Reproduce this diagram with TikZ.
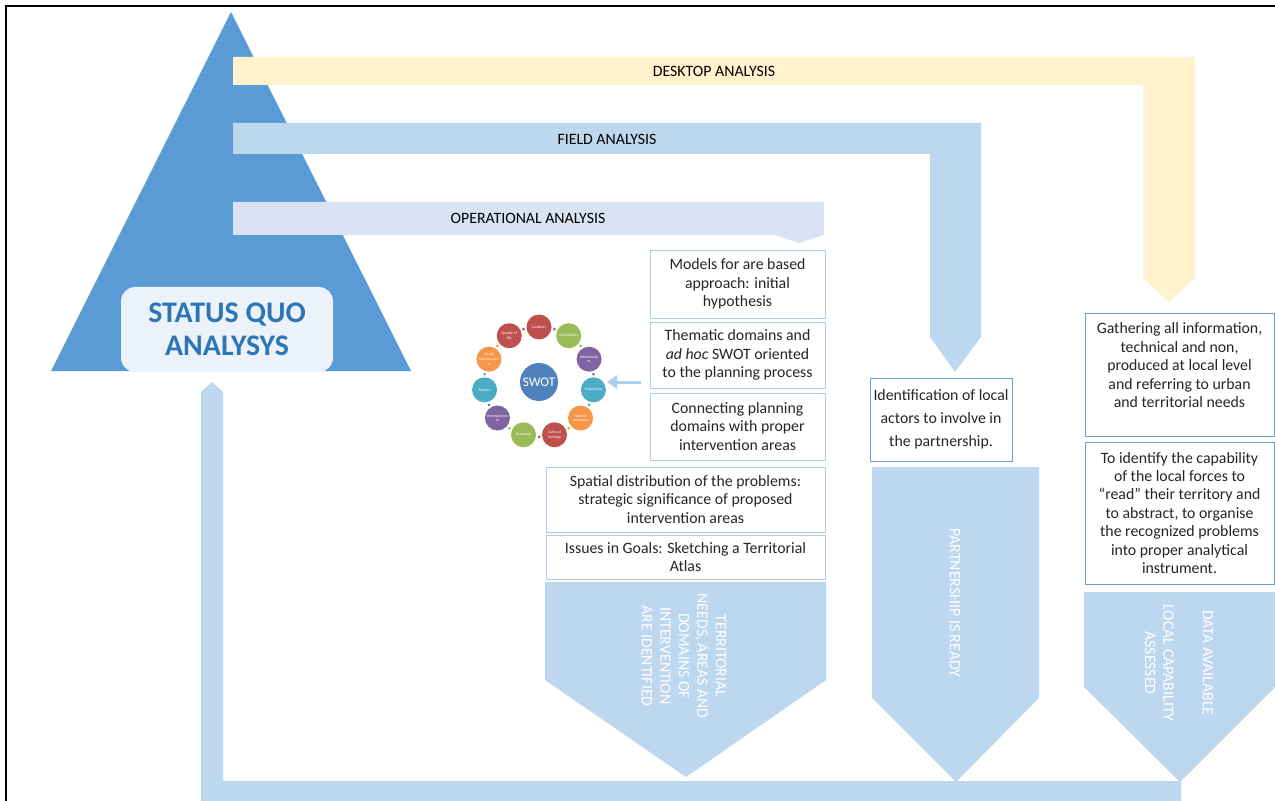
\documentclass[tikz,border=0pt]{standalone}
\usepackage{fontspec}
\setmainfont{Carlito}
\usepackage{xcolor}
\usepackage{tikz}
\usetikzlibrary{arrows.meta,positioning}

\definecolor{sqblue}{HTML}{5B9BD5}
\definecolor{sqdark}{HTML}{2E75B6}
\definecolor{sqpale}{HTML}{EBF2FA}
\definecolor{deskyel}{HTML}{FFF2CC}
\definecolor{fieldblu}{HTML}{BDD7EE}
\definecolor{operblu}{HTML}{DAE3F3}
\definecolor{boxline}{HTML}{AECBEA}
\definecolor{boxlinedk}{HTML}{6A9FD8}
\definecolor{swred}{HTML}{C0504D}
\definecolor{swgreen}{HTML}{9BBB59}
\definecolor{swpurple}{HTML}{8064A2}
\definecolor{swteal}{HTML}{4BACC6}
\definecolor{sworange}{HTML}{F79646}
\definecolor{swcore}{HTML}{4F81BD}

\begin{document}
\begin{tikzpicture}[x=0.2mm, y=-0.2mm, font=\fontsize{9}{10.5}\selectfont, >=Stealth,
  tbox/.style={draw=#1, fill=white, line width=0.5pt, align=center, inner sep=2pt, text=black!85},
  tbox/.default=boxline,
  lbl/.style={text=white, align=center, rotate=-90},
  ring/.style={circle, fill=#1, minimum size=5mm, inner sep=0pt, text=white, align=center,
    font=\fontsize{2.2}{2.6}\selectfont}]
\useasboundingbox (0,0) rectangle (1275,801);
\draw[line width=0.4mm] (6,801) -- (6,6) -- (1275,6);

% pyramid and title
\fill[sqblue] (231,12) -- (411,371) -- (51,371) -- cycle;
\node[fill=sqpale, rounded corners=8pt, minimum width=42.4mm, minimum height=17mm, align=center,
  text=sqdark, font=\fontsize{17}{19}\selectfont\bfseries] (sq) at (227,329.5) {STATUS QUO\\ANALYSYS};

% the three analysis bands
\fill[deskyel] (233,57) -- (1195,57) -- (1195,278) -- (1169,302) -- (1143,278) -- (1143,85) -- (233,85) -- cycle;
\node (desk) at (714,71) {DESKTOP ANALYSIS};
\fill[fieldblu] (233,123) -- (981,123) -- (981,337) -- (955,372) -- (930,337) -- (930,154) -- (233,154) -- cycle;
\node (field) at (607,139) {FIELD ANALYSIS};
\fill[operblu] (233,202) -- (824,202) -- (824,235) -- (799,243) -- (775,235) -- (233,235) -- cycle;
\node (oper) at (528,218) {OPERATIONAL ANALYSIS};

% feedback to the pyramid
\fill[fieldblu] (201,801) -- (201,392) -- (212,382) -- (223,392) -- (223,781) -- (1181,781) -- (1181,801) -- cycle;

% operational column
\node[tbox, minimum width=35mm, minimum height=13.6mm] (models) at (737.5,284) {Models for are based\\approach: initial\\hypothesis};
\node[tbox, minimum width=35mm, minimum height=13.2mm] (them) at (737.5,355) {Thematic domains and\\\emph{ad hoc} SWOT oriented\\to the planning process};
\node[tbox, minimum width=35mm, minimum height=13.4mm] (conn) at (737.5,426.5) {Connecting planning\\domains with proper\\intervention areas};
\node[tbox, minimum width=55.8mm, minimum height=13mm] (spat) at (685.5,499.5) {Spatial distribution of the problems:\\strategic significance of proposed\\intervention areas};
\node[tbox, minimum width=55.8mm, minimum height=8.8mm] (goals) at (685.5,557) {Issues in Goals: Sketching a Territorial\\Atlas};
\fill[fieldblu] (545,582) -- (826,582) -- (826,680) -- (686,777) -- (545,680) -- cycle;
\node[lbl] (terr) at (684,656) {TERRITORIAL\\NEEDS, AREAS AND\\DOMAINS OF\\INTERVENTION\\ARE IDENTIFIED};

% swot cycle
\node[circle, fill=swcore, minimum size=7.6mm, inner sep=0pt, text=white, font=\fontsize{7.5}{8}\selectfont] (swot) at (539,382) {SWOT};
\foreach \c/\t [count=\i from 0, evaluate=\i as \a using 90-\i*360/11] in
  {swred/Location, swgreen/Accessibility, swpurple/{Infrastructu\\re}, swteal/Population,
   sworange/{Natural\\resources}, swred/{Cultural\\heritage}, swgreen/Economy, swpurple/{Unemployme\\nt},
   swteal/Tourism, sworange/{Social\\Infrastructur\\e}, swred/{Quality of\\life}} {
  \fill[\c] ([shift={(\a-16.36:11mm)}]swot.center) circle (0.3mm);
  \node[ring=\c] (sw\i) at ([shift={(\a:11mm)}]swot.center) {\t};
}
\coordinate (swout) at (641,382);
\coordinate (swin) at (607,382);
\draw[line width=0.6mm, fieldblu!85!sqblue, -{Triangle[width=2.6mm,length=2mm]}] (swout) -- (swin);

% field column
\node[tbox=boxlinedk, minimum width=27.2mm, minimum height=16.6mm, font=\fontsize{9}{13}\selectfont] (ident) at (941,419.5) {Identification of local\\actors to involve in\\the partnership.};
\fill[fieldblu] (872,467) -- (1039,467) -- (1039,698) -- (956,782) -- (872,698) -- cycle;
\node[lbl] (partner) at (955,603) {PARTNERSHIP IS READY};

% desktop column
\node[tbox=boxlinedk, minimum width=37.8mm, minimum height=24.6mm] (gather) at (1179.5,374.5) {Gathering all information,\\technical and non,\\produced at local level\\and referring to urban\\and territorial needs\\\mbox{}};
\node[tbox=boxlinedk, minimum width=37.8mm, minimum height=28.4mm] (capab) at (1179.5,513) {To identify the capability\\of the local forces to\\``read'' their territory and\\to abstract, to organise\\the recognized problems\\into proper analytical\\instrument.};
\fill[fieldblu] (1084,592) -- (1275,592) -- (1275,687) -- (1180,782) -- (1084,687) -- cycle;
\node[lbl] (data) at (1179,663) {DATA AVAILABLE\\[12pt]LOCAL CAPABILITY\\ASSESSED};
\end{tikzpicture}
\end{document}
